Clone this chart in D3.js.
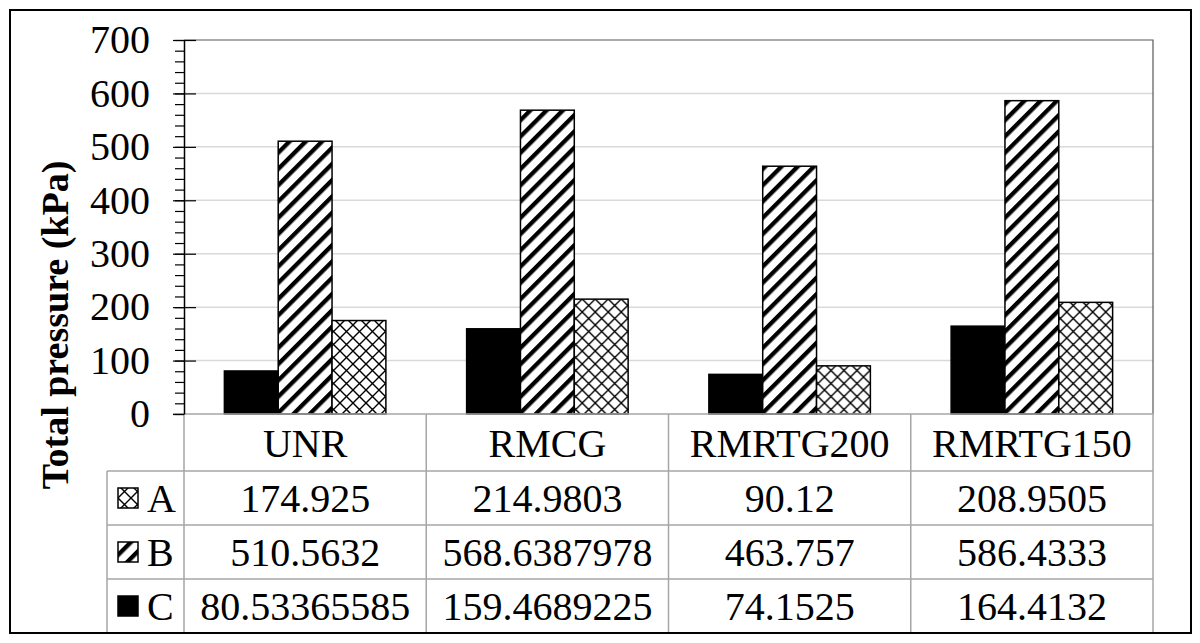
<!DOCTYPE html>
<html>
<head>
<meta charset="utf-8">
<script src="https://cdn.jsdelivr.net/npm/d3@7"></script>
<style>
  body { margin: 0; background: #fff; }
  text { font-family: "Liberation Serif", "Times New Roman", serif; fill: #000; }
</style>
</head>
<body>
<div id="chart"></div>
<script>
// Data
const categories = ["UNR", "RMCG", "RMRTG200", "RMRTG150"];
const seriesA = [174.925, 214.9803, 90.12, 208.9505];
const seriesB = [510.5632, 568.6387978, 463.757, 586.4333];
const seriesC = [80.53365585, 159.4689225, 74.1525, 164.4132];
const yTicks = [0, 100, 200, 300, 400, 500, 600, 700];
const minorTicks = d3.range(0, 701, 20);
const seriesNames = ["C", "B", "A"];     // bar order, left to right
const tableRows = ["A", "B", "C"];       // table order, top to bottom

const width = 1200;
const height = 643;
const plotLeft = 184, plotRight = 1153, plotTop = 40, plotBottom = 414;
const tableBottom = 633, legendLeft = 107;
const fontSize = "40px";

const values = { A: seriesA, B: seriesB, C: seriesC };
const fills = { A: "url(#cross)", B: "url(#diag)", C: "#000" };

const svg = d3.select("#chart").append("svg")
  .attr("width", width)
  .attr("height", height);

// patterns
const defs = svg.append("defs");
const diag = defs.append("pattern")
  .attr("id", "diag")
  .attr("patternUnits", "userSpaceOnUse")
  .attr("width", 11.5)
  .attr("height", 11.5)
  .attr("patternTransform", "rotate(45)");
diag.append("rect").attr("width", 11.5).attr("height", 11.5).attr("fill", "#fff");
diag.append("rect").attr("width", 4.3).attr("height", 11.5).attr("fill", "#000");

const cross = defs.append("pattern")
  .attr("id", "cross")
  .attr("patternUnits", "userSpaceOnUse")
  .attr("width", 13)
  .attr("height", 13);
cross.append("rect").attr("width", 13).attr("height", 13).attr("fill", "#fff");
cross.append("path")
  .attr("d", "M0,0L13,13M13,0L0,13")
  .attr("stroke", "#000")
  .attr("stroke-width", 1.4);

// scales
const x = d3.scaleBand().domain(categories).range([plotLeft, plotRight]).padding(0);
const xInner = d3.scaleBand().domain(seriesNames).range([0, x.bandwidth()])
  .paddingInner(0).paddingOuter(0.75);
const y = d3.scaleLinear().domain([0, 700]).range([plotBottom, plotTop]);
const rowScale = d3.scaleBand().domain(tableRows).range([471, tableBottom]);

// gridlines
svg.append("g").selectAll("line")
  .data(yTicks.filter(d => d > 0 && d < 700))
  .enter().append("line")
  .attr("x1", plotLeft).attr("x2", plotRight)
  .attr("y1", d => y(d)).attr("y2", d => y(d))
  .attr("stroke", "#d9d9d9")
  .attr("stroke-width", 1.5);

// plot border top / right
svg.append("path")
  .attr("d", `M${plotLeft},${y(700)}H${plotRight}V${y(0)}`)
  .attr("fill", "none")
  .attr("stroke", "#595959")
  .attr("stroke-width", 1.2);

// bars
const groups = svg.append("g").selectAll("g")
  .data(categories)
  .enter().append("g")
  .attr("transform", d => `translate(${x(d)},0)`);

groups.selectAll("rect")
  .data((c, i) => seriesNames.map(s => ({ s: s, v: values[s][i] })))
  .enter().append("rect")
  .attr("x", d => xInner(d.s))
  .attr("width", xInner.bandwidth())
  .attr("y", d => y(d.v))
  .attr("height", d => y(0) - y(d.v))
  .attr("fill", d => fills[d.s])
  .attr("stroke", "#000")
  .attr("stroke-width", 1.5);

// table lines
const gridColor = "#a6a6a6";
const tableLines = svg.append("g").attr("stroke", gridColor).attr("stroke-width", 1.5);
tableLines.append("line")
  .attr("x1", plotLeft - 11).attr("x2", plotRight)
  .attr("y1", y(0)).attr("y2", y(0));
tableLines.selectAll(".hrow")
  .data(tableRows)
  .enter().append("line")
  .attr("class", "hrow")
  .attr("x1", legendLeft).attr("x2", plotRight)
  .attr("y1", d => rowScale(d)).attr("y2", d => rowScale(d));
tableLines.selectAll(".vcol")
  .data(categories)
  .enter().append("line")
  .attr("class", "vcol")
  .attr("x1", d => x(d) + x.bandwidth()).attr("x2", d => x(d) + x.bandwidth())
  .attr("y1", y(0)).attr("y2", tableBottom);
tableLines.append("line")
  .attr("x1", plotLeft).attr("x2", plotLeft)
  .attr("y1", y(0)).attr("y2", tableBottom);
tableLines.append("line")
  .attr("x1", legendLeft).attr("x2", legendLeft)
  .attr("y1", rowScale("A")).attr("y2", tableBottom);

// y axis: minor then major ticks
svg.append("g")
  .attr("transform", `translate(${plotLeft},0)`)
  .call(d3.axisLeft(y).tickValues(minorTicks).tickSize(9).tickFormat(""))
  .call(g => g.select(".domain").remove())
  .selectAll("line").attr("stroke", "#000").attr("stroke-width", 1.2);

const yAxis = svg.append("g")
  .attr("transform", `translate(${plotLeft},0)`)
  .call(d3.axisLeft(y).tickValues(yTicks).tickSize(11).tickPadding(23).tickSizeOuter(0));
yAxis.select(".domain").attr("stroke", "#000").attr("stroke-width", 1.5);
yAxis.selectAll(".tick line").attr("x1", 12).attr("stroke", "#000").attr("stroke-width", 1.2);
yAxis.selectAll(".tick line").filter(d => d === 0).attr("x1", 0);
yAxis.selectAll(".tick text")
  .style("font-family", "'Liberation Serif', 'Times New Roman', serif")
  .style("font-size", fontSize)
  .attr("fill", "#000");

// y axis title
svg.append("text")
  .attr("transform", "translate(68,325) rotate(-90)")
  .attr("text-anchor", "middle")
  .style("font-size", "38px")
  .style("font-weight", "bold")
  .text("Total pressure (kPa)");

// table header (category names)
svg.append("g").selectAll("text")
  .data(categories)
  .enter().append("text")
  .attr("x", d => x(d) + x.bandwidth() / 2)
  .attr("y", (y(0) + rowScale("A")) / 2)
  .attr("dy", "0.35em")
  .attr("text-anchor", "middle")
  .style("font-size", fontSize)
  .text(d => d);

// table values
tableRows.forEach(s => {
  svg.append("g").selectAll("text")
    .data(values[s])
    .enter().append("text")
    .attr("x", (d, i) => x(categories[i]) + x.bandwidth() / 2)
    .attr("y", rowScale(s) + rowScale.bandwidth() / 2)
    .attr("dy", "0.35em")
    .attr("text-anchor", "middle")
    .style("font-size", fontSize)
    .text(d => String(d));
});

// legend keys in table
const keys = svg.append("g").selectAll("g")
  .data(tableRows)
  .enter().append("g")
  .attr("transform", d => `translate(118,${rowScale(d) + rowScale.bandwidth() / 2})`);
keys.append("rect")
  .attr("x", 0).attr("y", -10)
  .attr("width", 20).attr("height", 20)
  .attr("fill", d => fills[d])
  .attr("stroke", "#000")
  .attr("stroke-width", 1.5);
keys.append("text")
  .attr("x", 29)
  .attr("dy", "0.35em")
  .style("font-size", fontSize)
  .text(d => d);

// outer border
svg.append("rect")
  .attr("x", 10).attr("y", 10)
  .attr("width", 1181).attr("height", tableBottom - 10)
  .attr("fill", "none")
  .attr("stroke", "#000")
  .attr("stroke-width", 2);
</script>
</body>
</html>
